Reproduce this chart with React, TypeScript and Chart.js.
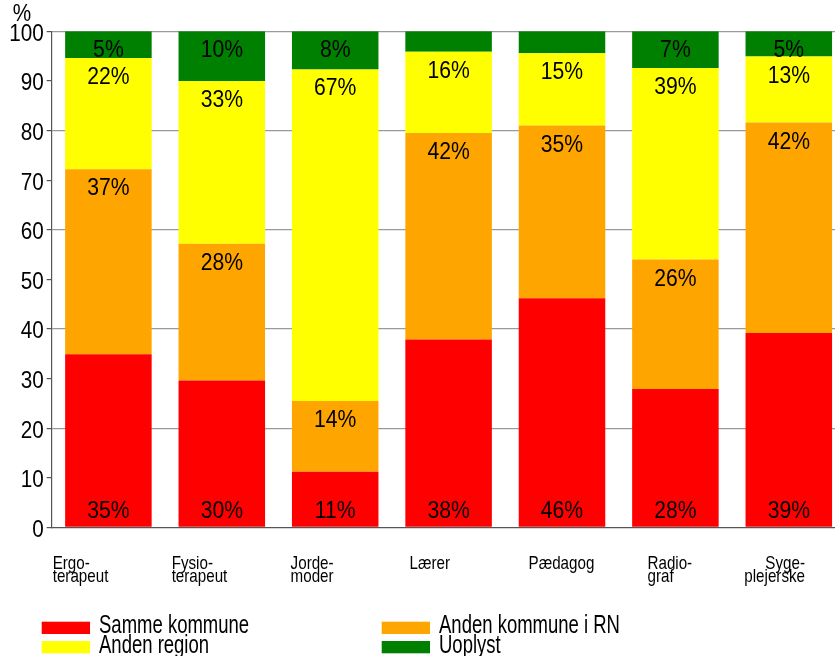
import React, { useEffect, useRef } from "react";
import { Chart, registerables } from "chart.js";

Chart.register(...registerables);

const CATEGORIES: string[][] = [
  ["Ergo-", "terapeut"],
  ["Fysio-", "terapeut"],
  ["Jorde-", "moder"],
  ["Lærer"],
  ["Pædagog"],
  ["Radio-", "graf"],
  ["Syge-", "plejerske"],
];

const SERIES_NAMES = ["Samme kommune", "Anden kommune i RN", "Anden region", "Uoplyst"];
const SERIES_COLORS = ["#FF0000", "#FFA500", "#FFFF00", "#008000"];

const SAMME_KOMMUNE = [34.9, 29.6, 11.2, 37.9, 46.2, 27.9, 39.2];
const ANDEN_KOMMUNE = [37.3, 27.6, 14.3, 41.6, 34.8, 26.1, 42.4];
const ANDEN_REGION = [22.4, 32.8, 66.8, 16.4, 14.6, 38.6, 13.3];
const UOPLYST = [5.4, 10.0, 7.7, 4.1, 4.4, 7.4, 5.1];

const Y_MIN = 0;
const Y_MAX = 100;
const Y_STEP = 10;
const Y_UNIT = "%";

const FONT = '"Liberation Sans", Arial, Helvetica, sans-serif';

function drawText(
  ctx: CanvasRenderingContext2D,
  s: string,
  x: number,
  y: number,
  size: number,
  sx: number,
  align: "left" | "right" | "center"
) {
  ctx.save();
  ctx.font = `${size}px ${FONT}`;
  ctx.textBaseline = "alphabetic";
  ctx.textAlign = "left";
  ctx.fillStyle = "#000";
  const w = ctx.measureText(s).width * sx;
  const left = align === "left" ? x : align === "right" ? x - w : x - w / 2;
  ctx.translate(left, y);
  ctx.scale(sx, 1);
  ctx.fillText(s, 0, 0);
  ctx.restore();
}

const textPlugin = {
  id: "textPlugin",
  afterDraw(chart: any) {
    const ctx: CanvasRenderingContext2D = chart.ctx;
    const area = chart.chartArea;
    const yScale = chart.scales.y;
    const xScale = chart.scales.x;

    // unit above axis
    drawText(ctx, Y_UNIT, area.left - 39, area.top - 10, 23, 0.9, "left");

    // y tick labels
    yScale.ticks.forEach((t: any) => {
      const py = yScale.getPixelForValue(t.value);
      drawText(ctx, String(t.value), area.left - 8, py + 9.5, 23, 0.9, "right");
    });

    // value labels
    chart.data.datasets.forEach((ds: any, di: number) => {
      const meta = chart.getDatasetMeta(di);
      meta.data.forEach((bar: any, i: number) => {
        const v = ds.data[i];
        const r = Math.round(v);
        if (r < 5) return;
        const props = bar.getProps(["x", "y", "base"], true);
        const ty = di === 0 ? props.base - 9 : props.y + 26;
        drawText(ctx, r + "%", props.x, ty, 23.5, 0.9, "center");
      });
    });

    // category labels
    const catW = (xScale.right - xScale.left) / CATEGORIES.length;
    CATEGORIES.forEach((lines, i) => {
      const last = i === CATEGORIES.length - 1;
      const lx = area.left + 1 + i * catW * 1.049;
      lines.forEach((ln, k) => {
        const by = area.bottom + 42 + k * 13;
        if (last) drawText(ctx, ln, lx + catW * 0.34, by, 18.5, 0.82, "right");
        else drawText(ctx, ln, lx, by, 18.5, 0.82, "left");
      });
    });

    // legend
    const colX = [41.7, 381.7];
    const rowY = [area.bottom + 94.3, area.bottom + 113.6];
    chart.data.datasets.forEach((ds: any, di: number) => {
      const col = di % 2;
      const row = Math.floor(di / 2);
      const bx = colX[col];
      const by = rowY[row];
      ctx.save();
      ctx.fillStyle = ds.backgroundColor;
      ctx.fillRect(bx, by, 48.3, 12.3);
      ctx.restore();
      drawText(ctx, ds.label, bx + 57.3, by + 11.5, 25, 0.74, "left");
    });
  },
};

export default function App() {
  const ref = useRef<HTMLCanvasElement | null>(null);

  useEffect(() => {
    if (!ref.current) return;
    const seriesData = [SAMME_KOMMUNE, ANDEN_KOMMUNE, ANDEN_REGION, UOPLYST];
    const chart = new Chart(ref.current, {
      type: "bar",
      data: {
        labels: CATEGORIES,
        datasets: seriesData.map((d, i) => ({
          label: SERIES_NAMES[i],
          data: d,
          backgroundColor: SERIES_COLORS[i],
          borderWidth: 0,
          barPercentage: 0.763,
          categoryPercentage: 1,
        })),
      },
      options: {
        animation: false,
        responsive: false,
        maintainAspectRatio: false,
        layout: { padding: { left: 0, right: 14.5, top: 31.3, bottom: 0 } },
        plugins: {
          legend: { display: false },
          tooltip: { enabled: false },
          title: { display: false },
        },
        scales: {
          x: {
            stacked: true,
            z: 1,
            ticks: { display: false },
            grid: { display: true, color: "transparent", drawTicks: false },
            border: { display: true, color: "#555555", width: 1.2 },
            afterFit: (s: any) => {
              s.height = 656 - 527.4;
            },
          },
          y: {
            stacked: true,
            z: 1,
            min: Y_MIN,
            max: Y_MAX,
            ticks: { display: false, stepSize: Y_STEP },
            grid: {
              color: (c: any) =>
                c.tick && c.tick.value % 20 === 0 && c.tick.value !== 0 ? "#9a9a9a" : "transparent",
              lineWidth: 1.2,
              tickColor: "#555555",
              tickLength: 5,
              drawTicks: true,
            },
            border: { display: true, color: "#555555", width: 1.2 },
            afterFit: (s: any) => {
              s.width = 51.7;
            },
          },
        },
      },
      plugins: [textPlugin],
    });
    return () => chart.destroy();
  }, []);

  return (
    <div
      style={{
        position: "fixed",
        left: 0,
        top: 0,
        width: 835,
        height: 656,
        overflow: "hidden",
        background: "#fff",
      }}
    >
      <canvas ref={ref} width={860} height={656} style={{ display: "block", width: 860, height: 656 }} />
    </div>
  );
}
